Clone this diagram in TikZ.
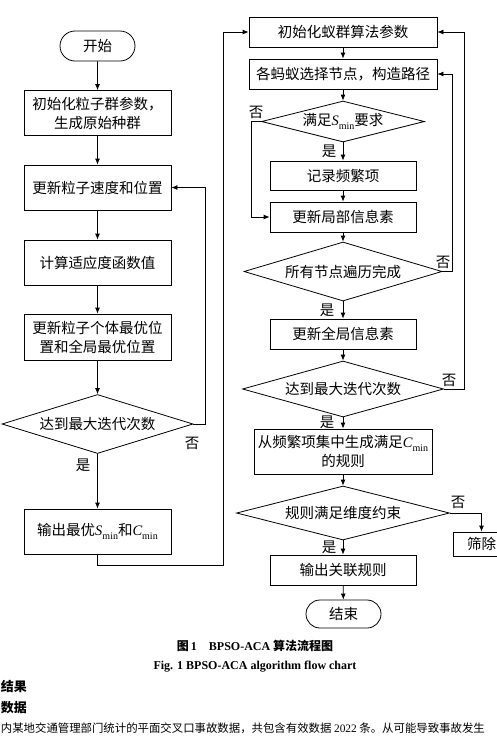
\documentclass[tikz,border=0pt]{standalone}
\usepackage{fontspec}
\setmainfont{Liberation Serif}
\newfontfamily\cjk{Noto Sans CJK SC}
\usetikzlibrary{shapes.geometric,shapes.misc,arrows.meta}

\newcommand{\lowmin}{\raisebox{-0.45ex}{\rmfamily\upshape\fontsize{10}{10}\selectfont min}}
\newcommand{\Svar}{{\rmfamily\itshape S}\lowmin}
\newcommand{\Cvar}{{\rmfamily\itshape C}\lowmin}

\begin{document}
\begin{tikzpicture}[x=1pt, y=-1pt, line width=0.8pt,
    >={Latex[length=6pt,width=5pt]},
    every node/.style={font=\cjk\fontsize{14.5}{19}\selectfont},
    proc/.style={draw, rectangle, inner sep=0pt, minimum width=147, minimum height=45, align=center},
    dec/.style={draw, diamond, inner sep=0pt},
    term/.style={draw, rounded rectangle, inner sep=0pt, minimum width=75, minimum height=30},
    tag/.style={inner sep=0pt},
    para/.style={inner sep=0pt, font=\cjk\fontsize{11.4}{14}\selectfont}]
    \useasboundingbox (0,0) rectangle (497,748);

    % PSO part
    \begin{scope}
        \node[term] (start) at (97.5,46) {开始};
        \node[proc] (psoInit) at (97.5,113) {初始化粒子群参数，\\生成原始种群};
        \node[proc] (psoMove) at (97.5,187.5) {更新粒子速度和位置};
        \node[proc] (psoFit) at (97.5,262.5) {计算适应度函数值};
        \node[proc, minimum height=46] (psoBest) at (97.5,337) {更新粒子个体最优位\\置和全局最优位置};
        \node[dec, aspect=3.24, minimum width=191, minimum height=59] (psoStop) at (97.5,424) {达到最大迭代次数};
        \node[proc] (psoOut) at (97.5,531.5) {输出最优\Svar{}和\Cvar};
        \coordinate (hand) at (223,565);

        \draw[->] (start) -- (psoInit);
        \draw[->] (psoInit) -- (psoMove);
        \draw[->] (psoMove) -- (psoFit);
        \draw[->] (psoFit) -- (psoBest);
        \draw[->] (psoBest) -- (psoStop);
        \draw[->] (psoStop) -- (psoOut);
        \draw[->] (psoStop.east) -- ++(12,0) |- (psoMove.east);
        \node[tag] (psoNo) at (192,443) {否};
        \node[tag] (psoYes) at (83,465) {是};
    \end{scope}

    % ACA part
    \begin{scope}
        \node[proc, minimum width=188, minimum height=30] (acaInit) at (343,32) {初始化蚁群算法参数};
        \node[proc, minimum width=188, minimum height=30] (acaPath) at (343,74) {各蚂蚁选择节点，构造路径};
        \node[dec, aspect=3.98, minimum width=163, minimum height=41] (acaS) at (343,121.5) {满足\Svar{}要求};
        \node[proc, minimum width=146, minimum height=29] (acaRec) at (343,175.5) {记录频繁项};
        \node[proc, minimum width=146, minimum height=30] (acaLocal) at (343,217) {更新局部信息素};
        \node[dec, aspect=3.36, minimum width=198, minimum height=59] (acaAll) at (343,271.5) {所有节点遍历完成};
        \node[proc, minimum width=146, minimum height=30] (acaGlobal) at (343,334) {更新全局信息素};
        \node[dec, aspect=3.59, minimum width=201, minimum height=56] (acaStop) at (343,389) {达到最大迭代次数};
        \node[proc, minimum width=178, minimum height=45] (acaRule) at (343,451.5) {从频繁项集中生成满足\Cvar\\的规则};
        \node[dec, aspect=3.94, minimum width=213, minimum height=54] (acaDim) at (343,513) {规则满足维度约束};
        \node[proc, minimum width=57, minimum height=24] (acaDrop) at (481.5,544) {筛除};
        \node[proc, minimum width=146, minimum height=30] (acaOut) at (343,570) {输出关联规则};
        \node[term, minimum height=28] (stop) at (343.5,614) {结束};

        \draw[->] (psoOut.south) |- (hand) |- (acaInit.west);
        \draw[->] (acaInit) -- (acaPath);
        \draw[->] (acaPath) -- (acaS);
        \draw[->] (acaS) -- (acaRec);
        \draw[->] (acaRec) -- (acaLocal);
        \draw[->] (acaS.west) -- ++(-10,0) |- (acaLocal.west);
        \draw[->] (acaLocal) -- (acaAll);
        \draw[->] (acaAll.east) -- ++(10,0) |- (acaPath.east);
        \draw[->] (acaAll) -- (acaGlobal);
        \draw[->] (acaGlobal) -- (acaStop);
        \draw[->] (acaStop.east) -- ++(20,0) |- (acaInit.east);
        \draw[->] (acaStop) -- (acaRule);
        \draw[->] (acaRule) -- (acaDim);
        \draw[->] (acaDim.east) -| (acaDrop.north);
        \draw[->] (acaDim) -- (acaOut);
        \draw[->] (acaOut) -- (stop);

        \node[tag] (sNo) at (256,112) {否};
        \node[tag] (sYes) at (329,151) {是};
        \node[tag] (allNo) at (443,262) {否};
        \node[tag] (allYes) at (327,310) {是};
        \node[tag] (stopNo) at (449,380) {否};
        \node[tag] (stopYes) at (327,422) {是};
        \node[tag] (dimNo) at (458,502) {否};
        \node[tag] (dimYes) at (329,547) {是};
    \end{scope}

    % Captions and page text
    \node[font=\cjk\bfseries\fontsize{12}{14}\selectfont] (capCn) at (255,646) {图\,{\rmfamily 1}\quad{\rmfamily BPSO-ACA} 算法流程图};
    \node[font=\rmfamily\bfseries\fontsize{12}{14}\selectfont] (capEn) at (255,667) {Fig. 1 BPSO-ACA algorithm flow chart};
    \node[tag, anchor=west, font=\cjk\bfseries\fontsize{13}{15}\selectfont] (secHead) at (0.5,687) {结果};
    \node[tag, anchor=west, font=\cjk\bfseries\fontsize{13}{15}\selectfont] (subHead) at (0.5,708) {数据};
    \node[para, anchor=west] (bodyLine) at (0.5,728) {内某地交通管理部门统计的平面交叉口事故数据，共包含有效数据 {\rmfamily 2022} 条。从可能导致事故发生};
\end{tikzpicture}
\end{document}
